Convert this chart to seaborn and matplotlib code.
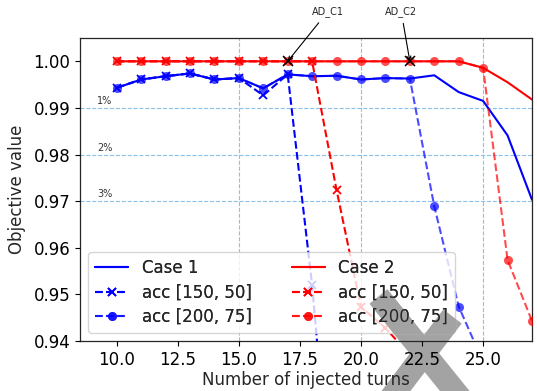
import numpy as np
import pandas as pd
import matplotlib
matplotlib.use("Agg")
import matplotlib.pyplot as plt
import seaborn as sns
from matplotlib.path import Path
from matplotlib.patches import Rectangle
from matplotlib.transforms import IdentityTransform

# ---------------- data ----------------
turns = [10, 11, 12, 13, 14, 15, 16, 17, 18, 19, 20, 21, 22, 23, 24, 25, 26, 27]
case1 = [0.9943, 0.9961, 0.9968, 0.9974, 0.9961, 0.9964, 0.9942, 0.9972, 0.9968,
         0.9969, 0.9961, 0.9964, 0.9963, 0.9970, 0.9934, 0.9915, 0.9841, 0.9703]
case2 = [1.0, 1.0, 1.0, 1.0, 1.0, 1.0, 1.0, 1.0, 1.0,
         1.0, 1.0, 1.0, 1.0, 1.0, 1.0, 0.9986, 0.9955, 0.9918]

c1_acc150_x = [10, 11, 12, 13, 14, 15, 16, 17, 18, 19]
c1_acc150_y = [0.9943, 0.9961, 0.9968, 0.9974, 0.9961, 0.9964, 0.9927, 0.9972, 0.9520, 0.892]
c1_acc200_x = [10, 11, 12, 13, 14, 15, 16, 17, 18, 19, 20, 21, 22, 23, 24, 25]
c1_acc200_y = [0.9943, 0.9961, 0.9968, 0.9974, 0.9961, 0.9964, 0.9942, 0.9972, 0.9968,
               0.9969, 0.9961, 0.9964, 0.9963, 0.9689, 0.9474, 0.9355]

c2_acc150_x = [10, 11, 12, 13, 14, 15, 16, 17, 18, 19, 20, 21, 22]
c2_acc150_y = [1.0, 1.0, 1.0, 1.0, 1.0, 1.0, 1.0, 1.0, 1.0, 0.9724, 0.9473, 0.9428, 0.9370]
c2_acc200_x = [10, 11, 12, 13, 14, 15, 16, 17, 18, 19, 20, 21, 22, 23, 24, 25, 26, 27]
c2_acc200_y = [1.0, 1.0, 1.0, 1.0, 1.0, 1.0, 1.0, 1.0, 1.0,
               1.0, 1.0, 1.0, 1.0, 1.0, 1.0, 0.9986, 0.9574, 0.9443]

ad_labels = ["AD_C1", "AD_C2"]
ad_x = [17, 22]
ad_y = [1.0, 1.0]
ad_text_x = [18.63, 21.65]
ad_text_y = [1.0106, 1.0106]

pct_labels = ["1%", "2%", "3%"]
pct_levels = [0.99, 0.98, 0.97]
vlines_x = [15, 20, 25]

overlay_x = [22.57]
overlay_y = [0.9374]

yticks = [0.94, 0.95, 0.96, 0.97, 0.98, 0.99, 1.00]

# ---------------- style ----------------
sns.set_style("ticks")
plt.rcParams["font.family"] = ["DejaVu Sans"]
plt.rcParams["axes.edgecolor"] = "0.15"

fig = plt.figure(figsize=(5.37, 3.91), dpi=100)
ax = fig.add_axes([80 / 537, 1 - 341 / 391, 452 / 537, 303 / 391])
ax.set_axisbelow(False)

grid_c = "#8fc0e6"
for lv in pct_levels:
    ax.axhline(lv, color=grid_c, ls="--", lw=0.8, zorder=1)
for xv in vlines_x:
    ax.axvline(xv, color=grid_c, ls="--", lw=0.8, zorder=1)
for lab, lv in zip(pct_labels, pct_levels):
    ax.text(9.2, lv + 0.0004, lab, fontsize=7, color="0.2", va="bottom", ha="left", zorder=1)

blue = "#0000ff"
blue_l = (0.0, 0.0, 1.0, 0.7)
red = "#ff0000"
red_l = (1.0, 0.0, 0.0, 0.7)

sns.lineplot(x=turns, y=case1, ax=ax, color=blue, lw=1.5, label="Case 1", zorder=3)
sns.lineplot(x=c1_acc150_x, y=c1_acc150_y, ax=ax, color=blue, lw=1.5, ls="--",
             marker="x", markersize=6, mew=1.3, mec=blue, label="acc [150, 50]", zorder=3)
sns.lineplot(x=c1_acc200_x, y=c1_acc200_y, ax=ax, color=blue_l, lw=1.5, ls="--",
             marker="o", markersize=6.5, mew=0, label="acc [200, 75]", zorder=3)
sns.lineplot(x=turns, y=case2, ax=ax, color=red, lw=1.5, label="Case 2", zorder=3)
sns.lineplot(x=c2_acc150_x, y=c2_acc150_y, ax=ax, color=red, lw=1.5, ls="--",
             marker="x", markersize=6, mew=1.3, mec=red, label="acc [150, 50]", zorder=3)
sns.lineplot(x=c2_acc200_x, y=c2_acc200_y, ax=ax, color=red_l, lw=1.5, ls="--",
             marker="o", markersize=6.5, mew=0, label="acc [200, 75]", zorder=3)

# annotated points
ax.plot(ad_x, ad_y, ls="none", marker="x", color="black", markersize=7, mew=1.1, zorder=4)
for lab, px, py, tx, ty in zip(ad_labels, ad_x, ad_y, ad_text_x, ad_text_y):
    ax.annotate(lab, xy=(px, py), xytext=(tx, ty), fontsize=7, ha="center", va="center",
                annotation_clip=False,
                arrowprops=dict(arrowstyle="->", color="black", lw=0.8, shrinkA=2, shrinkB=0))

ax.set_xlim(8.5, 27.0)
ax.set_ylim(0.94, 1.005)
ax.set_yticks(yticks)
ax.yaxis.set_major_formatter(matplotlib.ticker.FormatStrFormatter("%.2f"))
ax.tick_params(labelsize=12, direction="out", length=3.5, width=0.8, colors="black")
ax.set_xlabel("Number of injected turns", fontsize=12, labelpad=1.5)
ax.set_ylabel("Objective value", fontsize=12, labelpad=5)
for s in ax.spines.values():
    s.set_visible(True)
    s.set_linewidth(0.9)

handles, labels = ax.get_legend_handles_labels()
leg_kw = dict(ncol=2, loc="lower left", fontsize=12, columnspacing=2.4,
              handlelength=2.0, borderaxespad=0.5, labelspacing=0.4)
leg1 = ax.legend(handles, labels, framealpha=0.8, **leg_kw)
leg1.set_zorder(5)
ax.add_artist(leg1)

# gray overlay cross (artifact in reference)
xpath = Path([(-46, 57), (46, -57), (28, 37), (-60, -79)],
             [Path.MOVETO, Path.LINETO, Path.MOVETO, Path.LINETO])
ov_kw = dict(ls="none", marker=xpath, markersize=113.8, mew=16.6,
             mec="#a3a3a3", mfc="none")
ax.plot(overlay_x, overlay_y, zorder=1.5, clip_on=False, **ov_kw)

fig.canvas.draw()
bb = leg1.get_frame().get_window_extent()
clip_rect = Rectangle((bb.x0, bb.y0), bb.width, bb.height, transform=IdentityTransform())
ov2, = ax.plot(overlay_x, overlay_y, zorder=5.5, **ov_kw)
ov2.set_clip_path(clip_rect)
ov2.set_clip_on(True)

leg2 = ax.legend(handles, labels, frameon=False, **leg_kw)
leg2.set_zorder(6)

fig.savefig("out.png", dpi=100)
